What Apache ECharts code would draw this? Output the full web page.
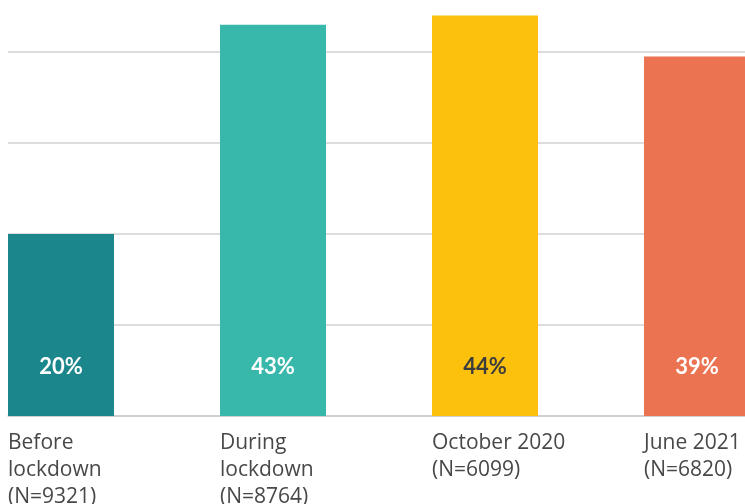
<!DOCTYPE html>
<html><head><meta charset="utf-8">
<script src="https://cdn.jsdelivr.net/npm/echarts@6/dist/echarts.min.js"></script>
<style>html,body{margin:0;padding:0;background:#fff}#c{width:745px;height:504px}</style>
</head><body><div id="c"></div>
<script>
var categories = ["Before\nlockdown\n(N=9321)", "During\nlockdown\n(N=8764)", "October 2020\n(N=6099)", "June 2021\n(N=6820)"];
var values = [20, 43, 44, 39.5];
var valueLabels = ["20%", "43%", "44%", "39%"];
var barColors = ["#1b878c", "#38b7ab", "#fcc10d", "#eb7352"];
var labelColors = ["#ffffff", "#ffffff", "#3d3d3d", "#ffffff"];
var yTicks = [0, 10, 20, 30, 40, 50];

var chart = echarts.init(document.getElementById('c'), null, {renderer: 'canvas'});
var font = "'Open Sans', Lato, sans-serif";
chart.setOption({
  animation: false,
  grid: [
    {left: 8, width: 848, top: -39, bottom: 88, outerBoundsMode: 'none', containLabel: false},
    {left: 8, width: 636, top: -39, bottom: 88, outerBoundsMode: 'none', containLabel: false}
  ],
  xAxis: [
    {type: 'category', gridIndex: 0, data: categories, boundaryGap: true,
     axisLine: {show: true, lineStyle: {color: '#cccccc', width: 1.5}},
     axisTick: {show: false}, axisLabel: {show: false}},
    {type: 'category', gridIndex: 1, data: categories, boundaryGap: false,
     axisLine: {show: false}, axisTick: {show: false},
     axisLabel: {show: true, align: 'left', verticalAlign: 'top', margin: 14,
       color: '#484848', fontSize: 21, lineHeight: 27, fontFamily: font}}
  ],
  yAxis: [
    {type: 'value', gridIndex: 0, min: yTicks[0], max: yTicks[yTicks.length - 1], interval: 10,
     axisLine: {show: false}, axisTick: {show: false}, axisLabel: {show: false},
     splitLine: {show: true, lineStyle: {color: '#d2d2d2', width: 1.5}}},
    {type: 'value', gridIndex: 1, min: 0, max: 50, show: false, splitLine: {show: false}}
  ],
  series: [
    {type: 'bar', xAxisIndex: 0, yAxisIndex: 0, barWidth: 106, barGap: 0,
     data: values.map(function (v, i) {
       return {value: v, itemStyle: {color: barColors[i]},
         label: {show: true, position: 'insideBottom', distance: 38,
           formatter: valueLabels[i], color: labelColors[i],
           fontSize: 22, fontWeight: 'bold', fontFamily: "Lato, sans-serif"}};
     })},
    {type: 'bar', xAxisIndex: 0, yAxisIndex: 0, barWidth: 106, barGap: 0,
     data: values.map(function () { return 0; }), itemStyle: {color: 'rgba(0,0,0,0)'}}
  ]
});
</script></body></html>
